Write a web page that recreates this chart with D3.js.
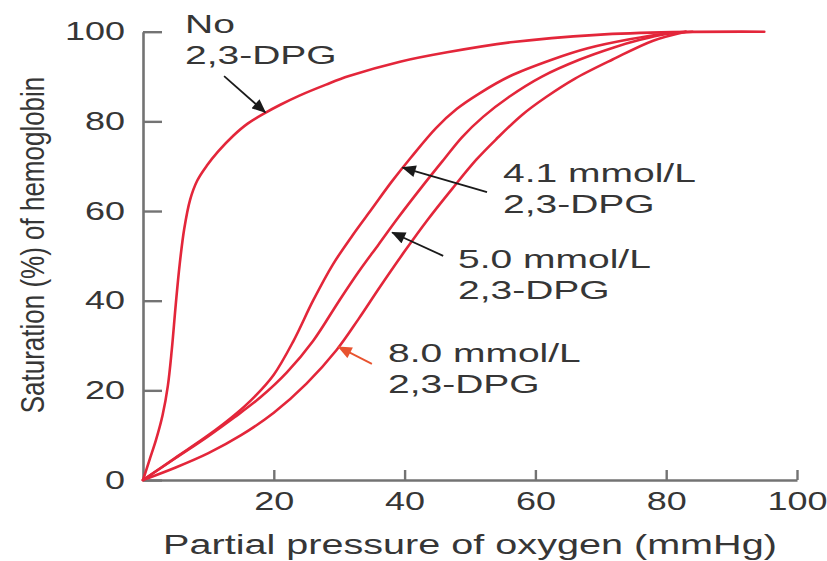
<!DOCTYPE html>
<html>
<head>
<meta charset="utf-8">
<script src="https://cdn.jsdelivr.net/npm/d3@7"></script>
<style>
  html, body { margin: 0; padding: 0; background: #ffffff; }
  svg { display: block; }
  text { font-family: "Liberation Sans", Arial, Helvetica, sans-serif; fill: #363636; }
</style>
</head>
<body>
<svg id="chart" width="827" height="561"></svg>
<script>
// ---------- data ----------
const xTicks = [20, 40, 60, 80, 100];
const yTicks = [0, 20, 40, 60, 80, 100];
const xTitle = "Partial pressure of oxygen (mmHg)";
const yTitle = "Saturation (%) of hemoglobin";

// No 2,3-DPG
const noDpgP = [0, 1, 2, 3, 3.8, 4.4, 5, 5.6, 6.3, 7.2, 8.3, 9.8, 11.5, 13.8, 16, 18.7, 21, 24, 28, 31.5, 39.3, 46.5, 56.6, 69.4, 81, 95];
const noDpgS = [0, 4.5, 9, 14.5, 21, 29, 39, 48, 56, 62.5, 66.8, 70.2, 73.3, 76.8, 79.5, 81.9, 83.7, 85.8, 88.2, 90.1, 93.3, 95.4, 97.7, 99.3, 99.9, 100];
// 4.1 mmol/L 2,3-DPG
const dpg41P = [0, 5, 10, 14, 17, 20, 23, 26, 29, 32, 35, 38, 41, 44.8, 48, 51.4, 56, 62.6, 68, 74.4, 80, 84];
const dpg41S = [0, 5, 10, 14.5, 18.5, 23.5, 31, 40, 48, 54.5, 60.5, 66.5, 72, 78.5, 82.8, 86.2, 90, 93.8, 96.3, 98.3, 99.6, 100];
// 5.0 mmol/L 2,3-DPG
const dpg50P = [0, 5, 10, 14, 18, 22, 26, 30, 33, 36, 39, 42.7, 46, 48.8, 52, 56, 61, 66.8, 72, 76, 80, 83];
const dpg50S = [0, 4.9, 9.8, 14, 18.5, 24, 31, 40, 46.5, 52.5, 58.5, 65.5, 71.5, 76.5, 81, 85.5, 90, 93.8, 96.5, 98.2, 99.5, 100];
// 8.0 mmol/L 2,3-DPG
const dpg80P = [0, 5, 10, 15, 20, 25, 29.6, 33, 36.2, 40, 43.5, 47.3, 51, 54, 58, 61.7, 66, 71.8, 78, 83];
const dpg80S = [0, 2.8, 6, 10, 15, 21.5, 29, 36, 43, 51, 58, 65, 71.5, 76, 81.5, 85.5, 89.5, 93.8, 98, 100];

const seriesLabels = [
  ["No", "2,3-DPG"],
  ["4.1 mmol/L", "2,3-DPG"],
  ["5.0 mmol/L", "2,3-DPG"],
  ["8.0 mmol/L", "2,3-DPG"]
];

// ---------- layout ----------
const svg = d3.select("#chart");
const x = d3.scaleLinear().domain([0, 100]).range([143, 797]);
const y = d3.scaleLinear().domain([0, 100]).range([480, 31.7]);

const axisColor = "#737373";
const curveColor = "#e3263a";
const textColor = "#363636";
const sxTick = 1.44, sxAnn = 1.5, sxTitle = 1.44;

const series = [
  { P: noDpgP, S: noDpgS },
  { P: dpg41P, S: dpg41S },
  { P: dpg50P, S: dpg50S },
  { P: dpg80P, S: dpg80S }
];

// annotation placement in data units
const annots = [
  { tx: 6.42, ts: 99.7, tail: [12.4, 90.1], tip: [18.7, 82.0], color: "#1a1a1a" },
  { tx: 55.05, ts: 66.47, tail: [52.6, 64.2], tip: [39.7, 69.7], color: "#1a1a1a" },
  { tx: 48.17, ts: 47.29, tail: [45.9, 50.0], tip: [38.1, 55.2], color: "#1a1a1a" },
  { tx: 37.46, ts: 26.32, tail: [35.0, 25.9], tip: [29.9, 29.7], color: "#e8532f" }
];

// ---------- axes ----------
const gx = svg.append("g").attr("transform", `translate(0,${y(0)})`)
  .call(d3.axisBottom(x).tickValues(xTicks).tickSizeInner(-10).tickSizeOuter(0).tickPadding(12));
const gy = svg.append("g").attr("transform", `translate(${x(0)},0)`)
  .call(d3.axisLeft(y).tickValues(yTicks).tickSizeInner(-19).tickSizeOuter(0).tickPadding(18));

[gx, gy].forEach(g => {
  g.select(".domain").attr("stroke", axisColor).attr("stroke-width", 2.6);
  g.selectAll(".tick line").attr("stroke", axisColor).attr("stroke-width", 2.4);
  g.selectAll(".tick text").attr("font-size", 25).attr("fill", textColor)
    .attr("font-family", "Liberation Sans, Arial, sans-serif");
});
gx.selectAll(".tick text").attr("transform", `scale(${sxTick},1)`);
gy.selectAll(".tick text").each(function () {
  const t = d3.select(this);
  const xx = +t.attr("x");
  t.attr("x", 0).attr("transform", `translate(${xx},0) scale(${sxTick},1)`);
});

// axis titles
svg.append("text")
  .attr("transform", `translate(${(x(0) + x(100)) / 2},554) scale(${sxTitle},1)`)
  .attr("text-anchor", "middle").attr("font-size", 27.5).attr("fill", textColor)
  .text(xTitle);
svg.append("text")
  .attr("transform", `translate(44,245) scale(1.3,1) rotate(-90)`)
  .attr("text-anchor", "middle").attr("font-size", 26).attr("fill", textColor)
  .text(yTitle);

// ---------- curves ----------
const line = d3.line().x(d => x(d[0])).y(d => y(d[1])).curve(d3.curveCatmullRom.alpha(0.5));
svg.append("g").selectAll("path").data(series).join("path")
  .attr("d", s => line(s.P.map((p, i) => [p, s.S[i]])))
  .attr("fill", "none").attr("stroke", curveColor).attr("stroke-width", 2.6)
  .attr("stroke-linejoin", "round").attr("stroke-linecap", "round");

// ---------- annotations ----------
const defs = svg.append("defs");
annots.forEach((a, i) => {
  defs.append("marker").attr("id", "ah" + i)
    .attr("viewBox", "0 0 14 12").attr("refX", 13).attr("refY", 6)
    .attr("markerUnits", "userSpaceOnUse").attr("markerWidth", 15).attr("markerHeight", 12)
    .attr("orient", "auto")
    .append("path").attr("d", "M0,0 L14,6 L0,12 Z").attr("fill", a.color);
});
const ag = svg.append("g");
annots.forEach((a, i) => {
  ag.append("line")
    .attr("x1", x(a.tail[0])).attr("y1", y(a.tail[1]))
    .attr("x2", x(a.tip[0])).attr("y2", y(a.tip[1]))
    .attr("stroke", a.color).attr("stroke-width", 1.8)
    .attr("marker-end", `url(#ah${i})`);
  seriesLabels[i].forEach((txt, k) => {
    ag.append("text")
      .attr("transform", `translate(${x(a.tx)},${y(a.ts) + k * 31}) scale(${sxAnn},1)`)
      .attr("font-size", 26).attr("fill", textColor)
      .text(txt);
  });
});
</script>
</body>
</html>
